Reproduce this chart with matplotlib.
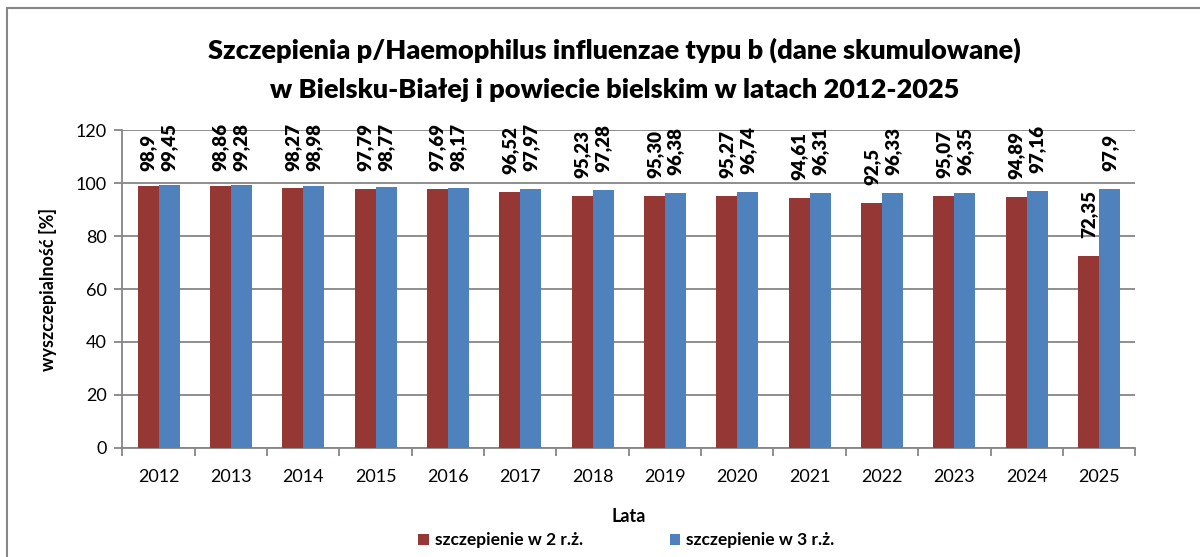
import matplotlib.pyplot as plt
import numpy as np
from matplotlib.patches import Rectangle

plt.rcParams['font.family'] = ['Lato', 'DejaVu Sans']

lata = ["2012", "2013", "2014", "2015", "2016", "2017", "2018",
        "2019", "2020", "2021", "2022", "2023", "2024", "2025"]
rz2 = [98.9, 98.86, 98.27, 97.79, 97.69, 96.52, 95.23,
       95.30, 95.27, 94.61, 92.5, 95.07, 94.89, 72.35]
rz3 = [99.45, 99.28, 98.98, 98.77, 98.17, 97.97, 97.28,
       96.38, 96.74, 96.31, 96.33, 96.35, 97.16, 97.9]
etyk2 = ["98,9", "98,86", "98,27", "97,79", "97,69", "96,52", "95,23",
         "95,30", "95,27", "94,61", "92,5", "95,07", "94,89", "72,35"]
etyk3 = ["99,45", "99,28", "98,98", "98,77", "98,17", "97,97", "97,28",
         "96,38", "96,74", "96,31", "96,33", "96,35", "97,16", "97,9"]

czerwony = "#953735"
niebieski = "#4F81BD"
szary = "#868686"

fig = plt.figure(figsize=(12, 5.57), dpi=100)
ax = fig.add_axes([0.102, 0.196, 0.844, 0.57])

x = np.arange(len(lata))
w = 0.29
ax.bar(x - w/2, rz2, w, color=czerwony, label="szczepienie w 2 r.ż.", zorder=3)
ax.bar(x + w/2, rz3, w, color=niebieski, label="szczepienie w 3 r.ż.", zorder=3)

# etykiety danych - nad slupkiem, ale nie wyzej niz gora wykresu
for i in range(len(lata)):
    for xx, v, t in ((x[i] - w/2, rz2[i], etyk2[i]), (x[i] + w/2, rz3[i], etyk3[i])):
        ax.text(xx, min(v + 6.8, 104.6), t, rotation=90, ha="center", va="bottom",
                fontsize=13.5, fontweight="heavy", zorder=4)

ax.set_ylim(0, 120)
ax.set_xlim(-0.5, len(lata) - 0.5)
ax.set_yticks(range(0, 121, 20))
ax.yaxis.grid(True, color=szary, linewidth=1.3, zorder=0)
ax.set_xticks(x)
ax.set_xticklabels(lata)
ax.set_xticks(np.arange(-0.5, len(lata), 1), minor=True)
ax.tick_params(axis="x", which="major", length=0, pad=15, labelsize=13)
ax.tick_params(axis="x", which="minor", length=6, color=szary, width=1.3)
ax.tick_params(axis="y", length=6, color=szary, width=1.3, labelsize=13, pad=5)
for s in ("top", "right"):
    ax.spines[s].set_visible(False)
for s in ("left", "bottom"):
    ax.spines[s].set_color(szary)
    ax.spines[s].set_linewidth(1.3)

ax.set_ylabel("wyszczepialność [%]", fontsize=13, fontweight="bold", labelpad=14)
ax.set_xlabel("Lata", fontsize=13, fontweight="bold", labelpad=17)

fig.text(0.512, 0.91, "Szczepienia p/Haemophilus influenzae typu b (dane skumulowane)",
         ha="center", va="center", fontsize=19.5, fontweight="heavy")
fig.text(0.512, 0.838, "w Bielsku-Białej i powiecie bielskim w latach 2012-2025",
         ha="center", va="center", fontsize=19.5, fontweight="heavy")

fig.legend(loc="center", bbox_to_anchor=(0.522, 0.03), ncol=2, frameon=False,
           prop={"weight": "bold", "size": 12.5}, handlelength=0.6, handleheight=0.6,
           columnspacing=5.0, handletextpad=0.35)

fig.patches.append(Rectangle((0.006, -0.1), 1.1, 1.085, transform=fig.transFigure,
                             fill=False, edgecolor=szary, linewidth=1.5))

fig.savefig("out.png", dpi=100)
